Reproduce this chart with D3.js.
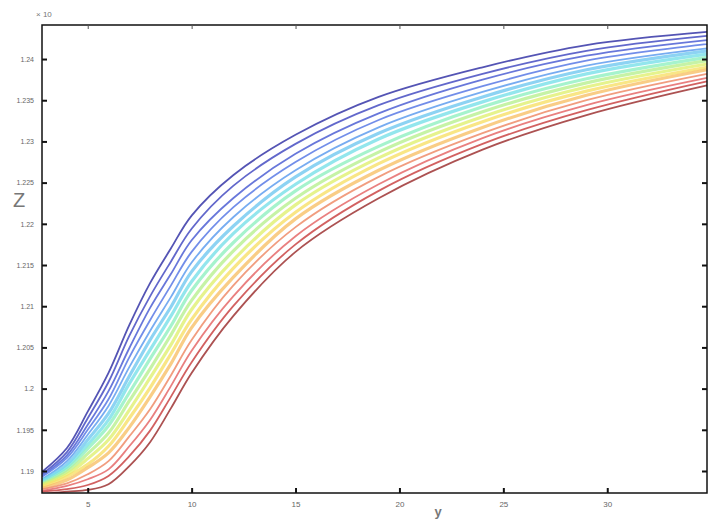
<!DOCTYPE html>
<html>
<head>
<meta charset="utf-8">
<script src="https://cdn.jsdelivr.net/npm/d3@7"></script>
<style>
  html, body { margin: 0; padding: 0; background: #fff; }
  svg { display: block; }
</style>
</head>
<body>
<svg id="chart" width="708" height="522"></svg>
<script>
// ---- data ----
const xValues = [2.8, 4, 5, 6, 7, 8, 9, 10, 12, 15, 19, 24, 29, 34.8];
const curve00 = [1.1899, 1.1928, 1.1972, 1.2019, 1.2077, 1.2128, 1.2170, 1.2210, 1.2259, 1.2308, 1.2354, 1.2390, 1.2417, 1.2433];
const curve01 = [1.1896, 1.1923, 1.1964, 1.2008, 1.2064, 1.2112, 1.2154, 1.2194, 1.2246, 1.2297, 1.2344, 1.2382, 1.2410, 1.2428];
const curve02 = [1.1894, 1.1919, 1.1956, 1.1997, 1.2049, 1.2098, 1.2139, 1.2180, 1.2231, 1.2285, 1.2334, 1.2375, 1.2404, 1.2423];
const curve03 = [1.1893, 1.1916, 1.1950, 1.1987, 1.2038, 1.2083, 1.2125, 1.2166, 1.2220, 1.2275, 1.2326, 1.2367, 1.2398, 1.2418];
const curve04 = [1.1890, 1.1912, 1.1944, 1.1979, 1.2026, 1.2070, 1.2111, 1.2153, 1.2208, 1.2265, 1.2317, 1.2360, 1.2392, 1.2413];
const curve05 = [1.1889, 1.1908, 1.1938, 1.1970, 1.2015, 1.2059, 1.2099, 1.2142, 1.2197, 1.2257, 1.2310, 1.2354, 1.2387, 1.2410];
const curve06 = [1.1888, 1.1905, 1.1932, 1.1962, 1.2006, 1.2047, 1.2088, 1.2130, 1.2188, 1.2248, 1.2303, 1.2348, 1.2382, 1.2406];
const curve07 = [1.1885, 1.1902, 1.1927, 1.1955, 1.1995, 1.2036, 1.2076, 1.2119, 1.2177, 1.2240, 1.2294, 1.2342, 1.2376, 1.2402];
const curve08 = [1.1884, 1.1899, 1.1921, 1.1946, 1.1985, 1.2024, 1.2065, 1.2107, 1.2167, 1.2231, 1.2287, 1.2336, 1.2371, 1.2398];
const curve09 = [1.1883, 1.1896, 1.1915, 1.1938, 1.1974, 1.2013, 1.2053, 1.2096, 1.2156, 1.2223, 1.2280, 1.2330, 1.2366, 1.2394];
const curve10 = [1.1881, 1.1893, 1.1908, 1.1930, 1.1964, 1.2001, 1.2042, 1.2084, 1.2146, 1.2214, 1.2273, 1.2324, 1.2361, 1.2390];
const curve11 = [1.1879, 1.1889, 1.1904, 1.1922, 1.1953, 1.1990, 1.2030, 1.2074, 1.2135, 1.2206, 1.2265, 1.2317, 1.2356, 1.2387];
const curve12 = [1.1878, 1.1885, 1.1896, 1.1912, 1.1942, 1.1975, 1.2016, 1.2059, 1.2125, 1.2196, 1.2257, 1.2310, 1.2350, 1.2382];
const curve13 = [1.1876, 1.1882, 1.1890, 1.1902, 1.1930, 1.1962, 1.2003, 1.2046, 1.2112, 1.2185, 1.2248, 1.2304, 1.2344, 1.2377];
const curve14 = [1.1875, 1.1878, 1.1883, 1.1894, 1.1918, 1.1949, 1.1990, 1.2032, 1.2100, 1.2175, 1.2240, 1.2297, 1.2338, 1.2373];
const curve15 = [1.1872, 1.1875, 1.1877, 1.1884, 1.1906, 1.1935, 1.1976, 1.2019, 1.2088, 1.2166, 1.2231, 1.2290, 1.2332, 1.2368];
const curves = [curve00, curve01, curve02, curve03, curve04, curve05, curve06, curve07,
                curve08, curve09, curve10, curve11, curve12, curve13, curve14, curve15];
const curveColors = ["#4b4bb0", "#5a5fc8", "#6070d8", "#6a88e8", "#70a8f0", "#70c8f0", "#78e0e8", "#90f0c0",
                     "#b8f090", "#e0f070", "#f8e068", "#f8c068", "#f09878", "#e87878", "#d05858", "#a84848"];
const xTicks = [5, 10, 15, 20, 25, 30];
const yTicks = [1.19, 1.195, 1.2, 1.205, 1.21, 1.215, 1.22, 1.225, 1.23, 1.235, 1.24];
const yTickLabels = ["1.19", "1.195", "1.2", "1.205", "1.21", "1.215", "1.22", "1.225", "1.23", "1.235", "1.24"];

// ---- layout ----
const svg = d3.select("#chart");
const mLeft = 42, mRight = 707, mTop = 25, mBottom = 493;

const x = d3.scaleLinear().domain([2.8, 34.8]).range([mLeft, mRight]);
const y = d3.scaleLinear().domain([1.18733, 1.24413]).range([mBottom, mTop]);

const defs = svg.append("defs");
defs.append("clipPath").attr("id", "plotclip")
  .append("rect").attr("x", mLeft).attr("y", mTop).attr("width", mRight - mLeft).attr("height", mBottom - mTop);

const blur = defs.append("filter").attr("id", "soft")
  .attr("x", "-5%").attr("y", "-5%").attr("width", "110%").attr("height", "110%");
blur.append("feGaussianBlur").attr("stdDeviation", 0.7);

const line = d3.line()
  .x((d, i) => x(xValues[i]))
  .y(d => y(d))
  .curve(d3.curveCatmullRom.alpha(0.5));

const g = svg.append("g").attr("clip-path", "url(#plotclip)").append("g").attr("filter", "url(#soft)");
curves.forEach((c, k) => {
  const outer = k < 5 || k > 11;
  g.append("path")
    .attr("d", line(c))
    .attr("fill", "none")
    .attr("stroke", curveColors[k])
    .attr("stroke-width", outer ? 1.8 : 3.2)
    .attr("stroke-opacity", outer ? 0.95 : 0.8);
});

// ---- axes ----
const axG = svg.append("g").attr("font-family", "Liberation Sans, Arial, sans-serif");

axG.append("rect").attr("x", mLeft).attr("y", mTop).attr("width", mRight - mLeft).attr("height", mBottom - mTop)
  .attr("fill", "none").attr("stroke", "#111").attr("stroke-width", 1.5);

const bottomAxis = d3.axisBottom(x).tickValues(xTicks).tickSize(-5).tickPadding(8).tickFormat(d3.format("d"));
const bAx = axG.append("g").attr("transform", `translate(0,${mBottom})`).call(bottomAxis);
bAx.select(".domain").remove();
bAx.selectAll("line").attr("stroke", "#111").attr("stroke-width", 2);
bAx.selectAll("text").attr("fill", "#666").attr("font-size", 8);

const topAxis = d3.axisTop(x).tickValues(xTicks).tickSize(-4).tickFormat("");
const tAx = axG.append("g").attr("transform", `translate(0,${mTop})`).call(topAxis);
tAx.select(".domain").remove();
tAx.selectAll("line").attr("stroke", "#555").attr("stroke-width", 1);

const leftAxis = d3.axisLeft(y).tickValues(yTicks).tickSize(-5).tickPadding(8)
  .tickFormat((d, i) => yTickLabels[i]);
const lAx = axG.append("g").attr("transform", `translate(${mLeft},0)`).call(leftAxis);
lAx.select(".domain").remove();
lAx.selectAll("line").attr("stroke", "#111").attr("stroke-width", 2);
lAx.selectAll("text").attr("fill", "#666").attr("font-size", 7);

const rightAxis = d3.axisRight(y).tickValues(yTicks).tickSize(-5).tickFormat("");
const rAx = axG.append("g").attr("transform", `translate(${mRight},0)`).call(rightAxis);
rAx.select(".domain").remove();
rAx.selectAll("line").attr("stroke", "#111").attr("stroke-width", 2);

axG.append("text").attr("x", 36).attr("y", 17).attr("font-size", 8).attr("fill", "#777").text("× 10");

axG.append("text").attr("x", 19).attr("y", 207).attr("text-anchor", "middle")
  .attr("font-size", 20).attr("fill", "#777").text("Z");
axG.append("text").attr("x", 438).attr("y", 516).attr("text-anchor", "middle")
  .attr("font-size", 13).attr("font-weight", "bold").attr("fill", "#777").text("y");
</script>
</body>
</html>
